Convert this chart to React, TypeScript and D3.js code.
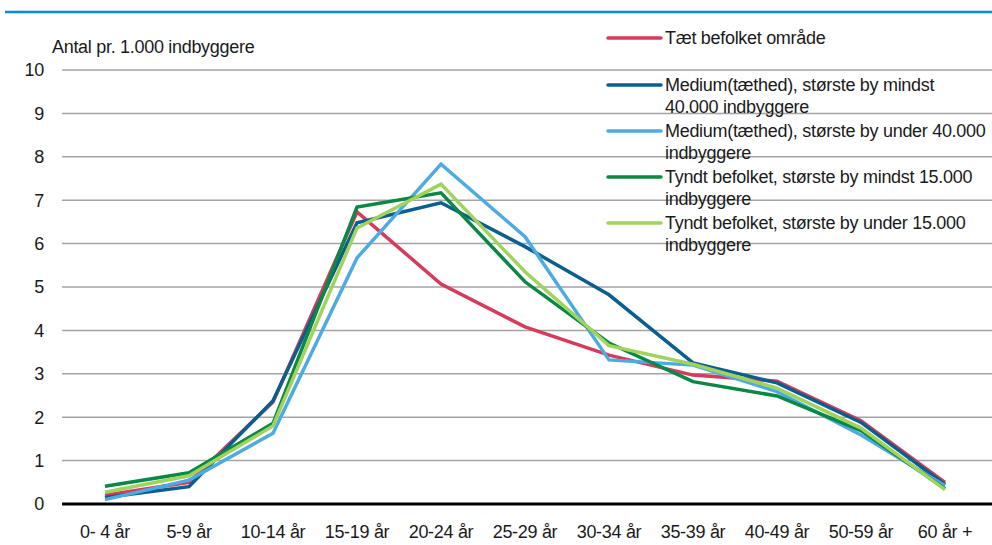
import { useEffect, useRef } from 'react';
import * as d3 from 'd3';

const categories = ['0- 4 år', '5-9 år', '10-14 år', '15-19 år', '20-24 år', '25-29 år', '30-34 år', '35-39 år', '40-49 år', '50-59 år', '60 år +'];

const taetBefolket = [0.2, 0.5, 2.35, 6.73, 5.07, 4.08, 3.43, 2.97, 2.83, 1.92, 0.5];
const mediumOver40 = [0.15, 0.4, 2.38, 6.48, 6.94, 5.93, 4.82, 3.25, 2.79, 1.88, 0.45];
const mediumUnder40 = [0.1, 0.55, 1.63, 5.67, 7.83, 6.16, 3.32, 3.2, 2.59, 1.59, 0.42];
const tyndtOver15 = [0.41, 0.72, 1.86, 6.84, 7.17, 5.12, 3.71, 2.82, 2.49, 1.69, 0.35];
const tyndtUnder15 = [0.27, 0.65, 1.8, 6.36, 7.37, 5.35, 3.65, 3.22, 2.67, 1.75, 0.33];

const seriesNames = [
  ['Tæt befolket område'],
  ['Medium(tæthed), største by mindst', '40.000 indbyggere'],
  ['Medium(tæthed), største by under 40.000', 'indbyggere'],
  ['Tyndt befolket, største by mindst 15.000', 'indbyggere'],
  ['Tyndt befolket, største by under 15.000', 'indbyggere'],
];
const seriesColors = ['#d63b5c', '#0a5f8e', '#4eaae2', '#0b8746', '#9fd35c'];
const seriesValues = [taetBefolket, mediumOver40, mediumUnder40, tyndtOver15, tyndtUnder15];

const yTicks = [0, 1, 2, 3, 4, 5, 6, 7, 8, 9, 10];

export default function App() {
  const svgRef = useRef<SVGSVGElement>(null);

  useEffect(() => {
    const width = 992;
    const height = 545;
    const svg = d3.select(svgRef.current);
    svg.selectAll('*').remove();
    svg.attr('width', width).attr('height', height);

    const font = "'Liberation Sans Narrow', 'Arial Narrow', 'Liberation Sans', Arial, sans-serif";
    const txt = (sel: any) => sel
      .style('font-family', font).style('font-size', '18px')
      .style('letter-spacing', '-0.3px').style('fill', '#1a1a1a');

    const left = 63;
    const x = d3.scaleBand().domain(categories).range([left, left + 84 * 11]);
    const y = d3.scaleLinear().domain([0, 10]).range([504, 70]);

    // Blå linje øverst
    svg.append('line')
      .attr('x1', 5).attr('x2', width).attr('y1', 12).attr('y2', 12)
      .attr('stroke', '#0a8bd0').attr('stroke-width', 2.5);

    // Gitter
    svg.append('g')
      .selectAll('line')
      .data(yTicks.filter(d => d > 0))
      .join('line')
      .attr('x1', 62).attr('x2', width)
      .attr('y1', d => y(d)).attr('y2', d => y(d))
      .attr('stroke', '#a3a3a3').attr('stroke-width', 1.5);

    // Y-labels
    svg.append('g')
      .selectAll('text')
      .data(yTicks)
      .join('text')
      .attr('x', 44).attr('y', d => y(d))
      .attr('dy', '0.35em')
      .attr('text-anchor', 'end')
      .call(txt)
      .text(d => d);

    svg.append('text')
      .attr('x', 52).attr('y', 47).attr('dy', '0.35em')
      .call(txt)
      .text('Antal pr. 1.000 indbyggere');

    // X-labels
    svg.append('g')
      .selectAll('text')
      .data(categories)
      .join('text')
      .attr('x', d => (x(d) ?? 0) + x.bandwidth() / 2)
      .attr('y', 532).attr('dy', '0.35em')
      .attr('text-anchor', 'middle')
      .call(txt)
      .text(d => d);

    // Linjer
    const line = d3.line<number>()
      .x((_, i) => (x(categories[i]) ?? 0) + x.bandwidth() / 2)
      .y(d => y(d));

    seriesValues.forEach((vals, i) => {
      svg.append('path')
        .datum(vals)
        .attr('d', line)
        .attr('fill', 'none')
        .attr('stroke', seriesColors[i])
        .attr('stroke-width', 3.5)
        .attr('stroke-linejoin', 'miter');
    });

    // Akse
    svg.append('line')
      .attr('x1', 62).attr('x2', width).attr('y1', 504).attr('y2', 504)
      .attr('stroke', '#000').attr('stroke-width', 3);

    // Legende
    const legendY = [38, 85, 131, 177, 223];
    const legend = svg.append('g');
    seriesNames.forEach((lines, i) => {
      const ly = legendY[i];
      legend.append('line')
        .attr('x1', 608).attr('x2', 661).attr('y1', ly).attr('y2', ly)
        .attr('stroke', seriesColors[i]).attr('stroke-width', 3.5)
        .attr('stroke-linecap', 'round');
      lines.forEach((t, j) => {
        legend.append('text')
          .attr('x', 665).attr('y', ly + j * 22).attr('dy', '0.35em')
          .call(txt)
          .text(t);
      });
    });
  }, []);

  return <svg ref={svgRef} style={{ position: 'absolute', left: 0, top: 0 }}></svg>;
}
